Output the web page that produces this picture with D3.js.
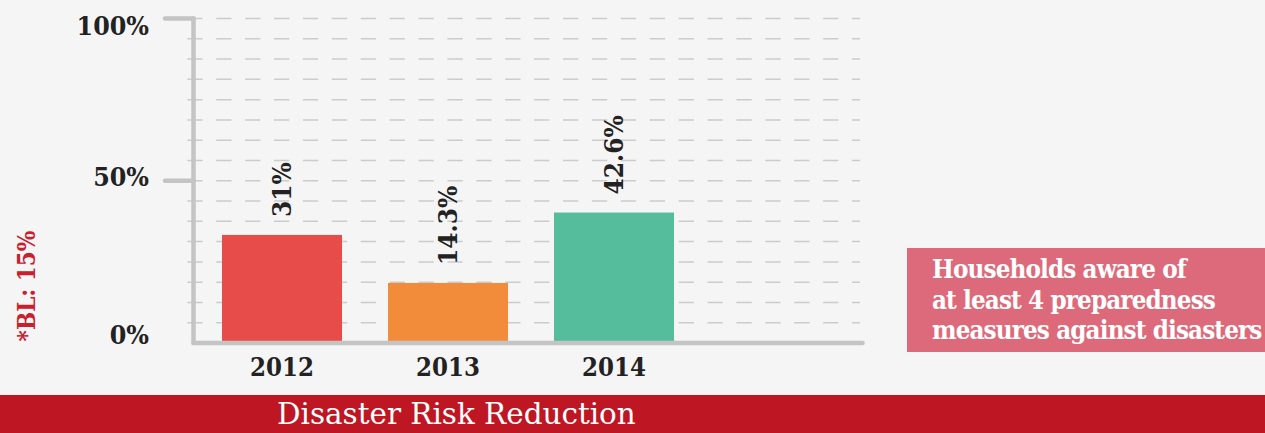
<!DOCTYPE html>
<html>
<head>
<meta charset="utf-8">
<script src="https://cdn.jsdelivr.net/npm/d3@7"></script>
<style>
    html, body { margin: 0; padding: 0; background: #f5f5f5; }
    svg { display: block; }
    .lbl { font-family: "DejaVu Serif Condensed", "DejaVu Serif", serif; font-weight: bold; fill: #222; }
</style>
</head>
<body>
<div id="chart"></div>
<script>
// data
var years = ["2012", "2013", "2014"];
var barValues = [33.3, 18.5, 40.2];          // bar heights as drawn (%)
var valueLabels = ["31%", "14.3%", "42.6%"];  // printed labels
var barColors = ["#e84c4a", "#f28c3b", "#55bc9c"];
var tickValues = [0, 50, 100];
var tickLabels = ["0%", "50%", "100%"];
var baseline = "*BL: 15%";
var boxLines = ["Households aware of", "at least 4 preparedness", "measures against disasters"];
var footer = "Disaster Risk Reduction";

window.onload = function() {
    draw();
};

function fitWidth(sel, target) {
    // scale font size so the text gets the wanted width
    var fs = parseFloat(sel.style("font-size"));
    var w = sel.node().getComputedTextLength();
    sel.style("font-size", (fs * target / w) + "px");
}

function draw() {
    var width = 1265;
    var height = 433;

    var svg = d3.select("#chart").append("svg").attr("width", width).attr("height", height);

    svg.append("rect").attr("width", width).attr("height", height).attr("fill", "#f5f5f5");

    // scales
    var yscale = d3.scaleLinear().domain([0, 100]).range([343, 18.5]);
    var xscale = d3.scaleBand().domain(years).range([199, 697])
        .paddingInner(0.277).paddingOuter(0.1386);

    // dashed grid, one line every 1/16
    var grid = d3.range(1, 17).map(function(k) { return k * 100 / 16; });
    svg.selectAll(".grid").data(grid).enter().append("line")
        .attr("class", "grid")
        .attr("x1", 187.3).attr("x2", 860)
        .attr("y1", function(d) { return yscale(d); })
        .attr("y2", function(d) { return yscale(d); })
        .attr("stroke", "#cccccc")
        .attr("stroke-width", 1.5)
        .attr("stroke-dasharray", "15.3,13.6");

    // bars
    svg.selectAll(".bar").data(barValues).enter().append("rect")
        .attr("class", "bar")
        .attr("x", function(d, i) { return xscale(years[i]); })
        .attr("y", function(d) { return yscale(d); })
        .attr("width", xscale.bandwidth())
        .attr("height", function(d) { return yscale(0) - yscale(d); })
        .attr("fill", function(d, i) { return barColors[i]; });

    // axes
    var axisColor = "#c4c4c4";
    svg.append("line")
        .attr("x1", 193.5).attr("x2", 193.5)
        .attr("y1", yscale(100)).attr("y2", yscale(0))
        .attr("stroke", axisColor).attr("stroke-width", 4.5).attr("stroke-linecap", "round");
    svg.append("line")
        .attr("x1", 193.5).attr("x2", 862.5)
        .attr("y1", yscale(0)).attr("y2", yscale(0))
        .attr("stroke", axisColor).attr("stroke-width", 4.7).attr("stroke-linecap", "round");
    svg.selectAll(".tick").data(tickValues.filter(function(d) { return d > 0; })).enter().append("line")
        .attr("class", "tick")
        .attr("x1", 165).attr("x2", 193.5)
        .attr("y1", function(d) { return yscale(d); })
        .attr("y2", function(d) { return yscale(d); })
        .attr("stroke", axisColor).attr("stroke-width", 4.5).attr("stroke-linecap", "round");

    // y tick labels
    svg.selectAll(".ylab").data(tickValues).enter().append("text")
        .attr("class", "lbl ylab")
        .attr("x", 149)
        .attr("y", function(d) {
            if (d === 0) return yscale(d) - 8.5;
            if (d === 100) return yscale(d) + 7.5;
            return yscale(d) - 4;
        })
        .attr("dy", "0.35em")
        .attr("text-anchor", "end")
        .style("font-size", "26.5px")
        .text(function(d, i) { return tickLabels[i]; });

    // x labels
    svg.selectAll(".xlab").data(years).enter().append("text")
        .attr("class", "lbl xlab")
        .attr("x", function(d) { return xscale(d) + xscale.bandwidth() / 2; })
        .attr("y", 375.5)
        .attr("text-anchor", "middle")
        .style("font-size", "25.5px")
        .text(function(d) { return d; });

    // value labels, rotated
    svg.selectAll(".vlab").data(barValues).enter().append("text")
        .attr("class", "lbl vlab")
        .attr("transform", function(d, i) {
            return "translate(" + (xscale(years[i]) + xscale.bandwidth() / 2) + "," + (yscale(d) - 18) + ") rotate(-90)";
        })
        .attr("dy", "0.35em")
        .style("font-size", "26px")
        .text(function(d, i) { return valueLabels[i]; });

    // baseline note
    svg.append("text")
        .attr("class", "lbl")
        .attr("transform", "translate(27,286) rotate(-90)")
        .attr("dy", "0.35em")
        .attr("text-anchor", "middle")
        .style("font-size", "24px")
        .style("fill", "#c8202f")
        .text(baseline);

    // description box
    svg.append("rect")
        .attr("x", 907).attr("y", 248).attr("width", width - 907).attr("height", 104)
        .attr("fill", "#dd6a7a");
    var lines = svg.selectAll(".box").data(boxLines).enter().append("text")
        .attr("class", "lbl box")
        .attr("x", 932)
        .attr("y", function(d, i) { return 278 + i * 30.5; })
        .style("font-size", "24px")
        .style("letter-spacing", "-0.9px")
        .style("fill", "#ffffff")
        .text(function(d) { return d; });
    var longest = d3.select(lines.nodes()[2]);
    fitWidth(longest, 328);
    lines.style("font-size", longest.style("font-size"));

    // footer band
    svg.append("rect")
        .attr("x", 0).attr("y", 395).attr("width", width).attr("height", height - 395)
        .attr("fill", "#be1622");
    var ft = svg.append("text")
        .attr("x", 277).attr("y", 424)
        .style("font-family", "DejaVu Serif, serif")
        .style("font-size", "23px")
        .style("fill", "#ffffff")
        .text(footer);
    fitWidth(ft, 359);
}
</script>
</body>
</html>
